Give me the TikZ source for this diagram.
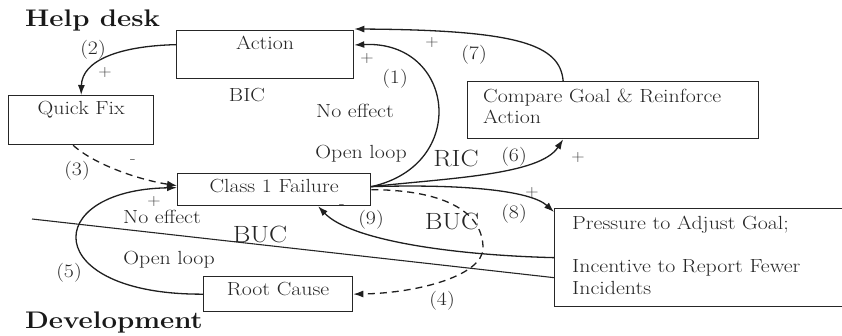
\documentclass[tikz,border=0pt]{standalone}
\usepackage{fontspec}
\setmainfont{Latin Modern Roman}[FakeStretch=1.15]
\usetikzlibrary{arrows.meta}
\begin{document}
\begin{tikzpicture}[x=1pt,y=-1pt,
  box/.style={draw=black!85, line width=1.3pt, anchor=north west, inner sep=0pt},
  lbl/.style={text=black!85, font=\fontsize{19}{21}\selectfont, inner sep=0pt},
  big/.style={text=black!85, font=\fontsize{23.5}{26}\selectfont, inner sep=0pt},
  sml/.style={text=black!75, font=\fontsize{16}{18}\selectfont, inner sep=0pt},
  head/.style={text=black!90, font=\fontsize{24}{27}\selectfont\bfseries, inner sep=0pt, anchor=base west},
  intext/.style={lbl, anchor=north},
  conn/.style={draw=black!88, line width=1.3pt, -{Latex[length=10pt,width=7pt]}},
  dconn/.style={conn, dash pattern=on 7pt off 5pt},
]
\useasboundingbox (0,0) rectangle (842,336);
\begin{scope}
\clip (0,0) rectangle (842,336);
% boxes
\node[box, minimum width=177, minimum height=48,
  label={[intext, yshift=-5.5pt]north:Action}] (action) at (176,30) {};
\node[box, minimum width=145, minimum height=49,
  label={[intext, yshift=-6.5pt]north:Quick Fix}] (quick) at (8,95) {};
\node[box, minimum width=193, minimum height=32,
  label={[intext, yshift=-6.5pt]north:Class 1 Failure}] (fail) at (177,173) {};
\node[box, minimum width=149, minimum height=35,
  label={[intext, yshift=-6pt]north:Root Cause}] (root) at (203,276) {};
\node[box, minimum width=291, minimum height=57,
  label={[lbl, anchor=north west, align=left, xshift=16pt, yshift=-8pt, font=\fontsize{19}{21}\selectfont]north west:Compare Goal \& Reinforce\\Action}] (compare) at (467,81) {};
\node[box, minimum width=300, minimum height=98,
  label={[lbl, anchor=north west, align=left, xshift=18pt, yshift=-8pt, font=\fontsize{19}{22}\selectfont]north west:Pressure to Adjust Goal;\\[21pt]Incentive to Report Fewer\\Incidents}] (press) at (554,208) {};

% headings
\node[head] (hd) at (25,27) {Help desk};
\node[head] (dev) at (25,328) {Development};

% boundary line
\coordinate (bstart) at (32,219);
\draw[black!85, line width=1.1pt] (bstart) -- ([yshift=-20pt]press.west);

% connectors
\draw[conn] ([yshift=3pt]fail.east) .. controls (470,165) and (455,40) .. ([yshift=-15pt]action.north east);
\draw[conn] ([xshift=-50pt]compare.north) .. controls (560,45) and (520,30) .. ([yshift=1pt]action.north east);
\draw[conn] ([yshift=10pt]action.west) .. controls (120,46) and (82,60) .. (quick.north);
\draw[dconn] ([xshift=-8pt]quick.south) .. controls (95,165) and (140,180) .. ([yshift=4pt]fail.west);
\draw[conn] (root.west) .. controls (40,295) and (40,190) .. ([yshift=2pt]fail.west);
\draw[conn] ([yshift=3pt]fail.east) .. controls (450,178) and (540,175) .. ([xshift=-50pt]compare.south);
\draw[conn] ([yshift=3pt]fail.east) .. controls (460,184) and (530,190) .. ([yshift=-4pt]press.north west);
\coordinate (turn) at (483,248);
\draw[dconn] (fail.east) .. controls (450,190) and (483,215) .. (turn) .. controls (483,275) and (420,293) .. (root.east);
\draw[conn] (press.west) .. controls (450,255) and (350,240) .. ([xshift=44pt]fail.south);

% labels
\node[lbl] (l2) at (93,50) {(2)};
\node[sml] (p2) at (105,73) {+};
\node[lbl] (bic) at (247,95) {BIC};
\node[lbl] (ne1) at (355,111) {No effect};
\node[lbl] (ol1) at (361,154) {Open loop};
\node[lbl] (l1) at (395,79) {(1)};
\node[sml] (p1) at (367,59) {+};
\node[sml] (p7) at (432,43) {+};
\node[lbl] (l7) at (474,55) {(7)};
\node[big] (ric) at (456,158) {RIC};
\node[lbl] (l6) at (514,157) {(6)};
\node[sml] (p6) at (578,158) {+};
\node[lbl] (l3) at (77,171) {(3)};
\node[sml] (m3) at (133,162) {-};
\node[sml] (p5) at (154,202) {+};
\node[lbl] (ne2) at (162,217) {No effect};
\node[big] (buc1) at (260,234) {BUC};
\node[lbl] (ol2) at (169,260) {Open loop};
\node[lbl] (l5) at (69,273) {(5)};
\node[lbl] (l9) at (371,220) {(9)};
\node[sml] (m9) at (342,207) {-};
\node[big] (buc2) at (452,221) {BUC};
\node[lbl] (l8) at (514,214) {(8)};
\node[sml] (p8) at (532,193) {+};
\node[lbl] (l4) at (442,301) {(4)};
\end{scope}
\end{tikzpicture}
\end{document}
